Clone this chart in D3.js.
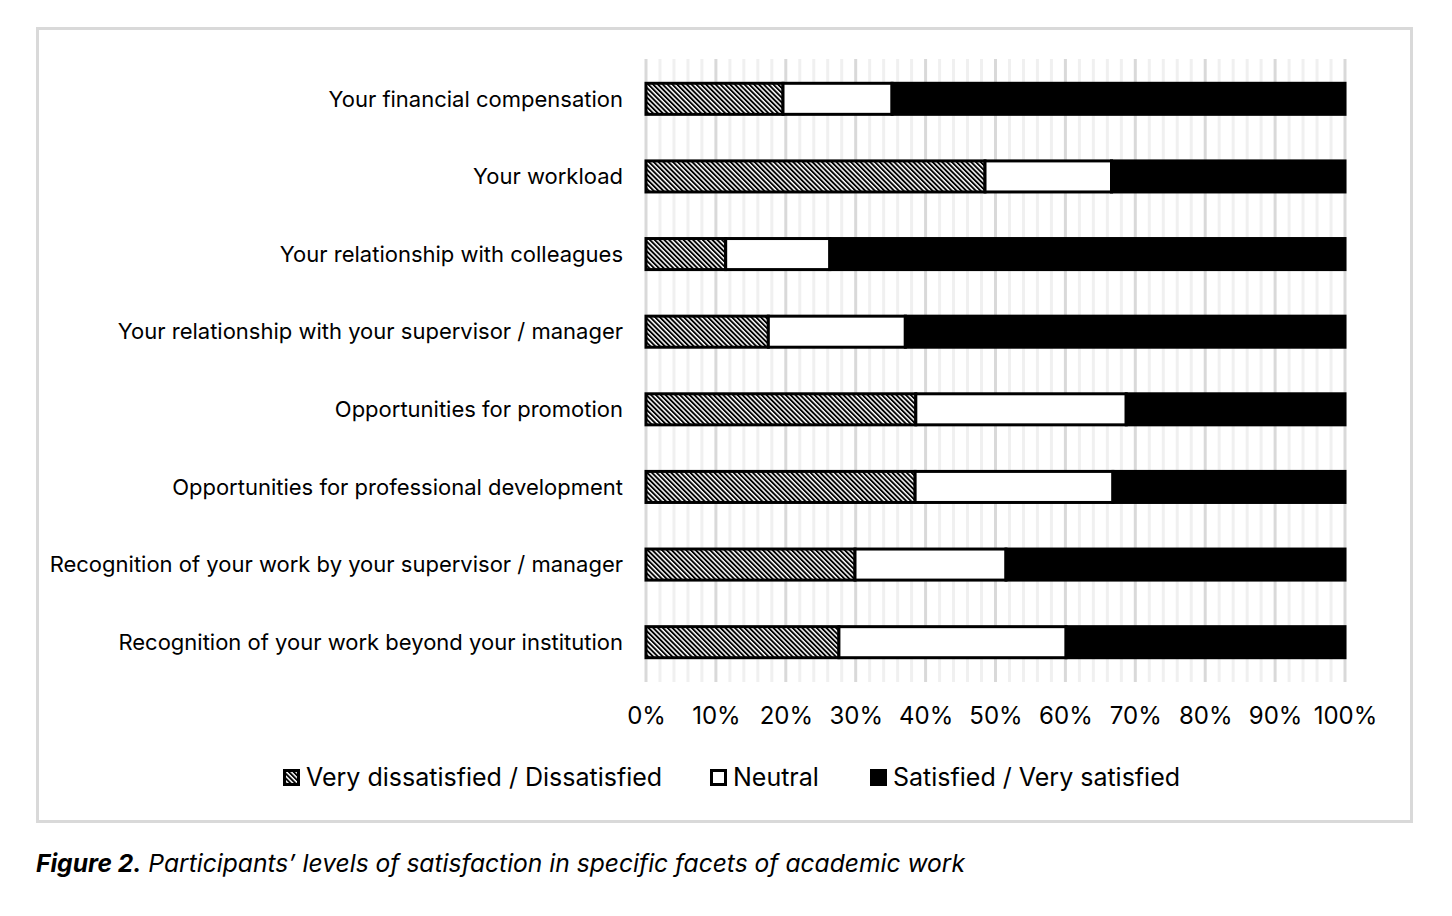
<!DOCTYPE html>
<html>
<head>
<meta charset="utf-8">
<script src="https://cdn.jsdelivr.net/npm/d3@7"></script>
<style>
  body { margin: 0; background: #fff; }
  svg { display: block; font-family: Inter, "Open Sans", sans-serif; }
</style>
</head>
<body>
<svg id="chart"></svg>
<script>
// Categories (top to bottom) and share of each response group, in %
const categories = [
  'Your financial compensation',
  'Your workload',
  'Your relationship with colleagues',
  'Your relationship with your supervisor / manager',
  'Opportunities for promotion',
  'Opportunities for professional development',
  'Recognition of your work by your supervisor / manager',
  'Recognition of your work beyond your institution'
];
const dissatisfied = [19.6, 48.5, 11.4, 17.5, 38.6, 38.5, 29.9, 27.6];
const neutral      = [15.6, 18.1, 14.9, 19.6, 30.1, 28.3, 21.6, 32.5];
const satisfied    = [64.8, 33.4, 73.7, 62.9, 31.3, 33.2, 48.5, 39.9];
const seriesNames = ['Very dissatisfied / Dissatisfied', 'Neutral', 'Satisfied / Very satisfied'];
const xTicks = [0, 10, 20, 30, 40, 50, 60, 70, 80, 90, 100];

const W = 1452, H = 916;
const svg = d3.select('#chart').attr('width', W).attr('height', H);

// hatch pattern for the "dissatisfied" segment
const defs = svg.append('defs');
defs.append('pattern')
    .attr('id', 'hatch')
    .attr('patternUnits', 'userSpaceOnUse')
    .attr('width', 3.4).attr('height', 3.4)
    .attr('patternTransform', 'rotate(-45)')
  .call(p => {
    p.append('rect').attr('width', 3.4).attr('height', 3.4).attr('fill', '#fff');
    p.append('rect').attr('width', 1.9).attr('height', 3.4).attr('fill', '#000');
  });

// outer frame
svg.append('rect')
    .attr('x', 37.5).attr('y', 28.5)
    .attr('width', 1374).attr('height', 793)
    .attr('fill', '#fff')
    .attr('stroke', '#d9d9d9')
    .attr('stroke-width', 3);

const x = d3.scaleLinear().domain([0, 100]).range([646, 1345]);
const y = d3.scaleBand()
    .domain(categories)
    .range([60, 681])
    .paddingInner(0.6)
    .paddingOuter(0.3);

// gridlines: minor every 2%, major every 10%
const minor = d3.range(0, 101, 2).filter(v => v % 10 !== 0);
svg.append('g').selectAll('line')
    .data(minor)
    .join('line')
    .attr('x1', d => x(d)).attr('x2', d => x(d))
    .attr('y1', 59).attr('y2', 682)
    .attr('stroke', '#f0f0f0')
    .attr('stroke-width', 3);

svg.append('g').selectAll('line')
    .data(xTicks)
    .join('line')
    .attr('x1', d => x(d)).attr('x2', d => x(d))
    .attr('y1', 59).attr('y2', 682)
    .attr('stroke', '#d9d9d9')
    .attr('stroke-width', 3);

// stacked bars
const rows = categories.map((c, i) => ({ cat: c, v: [dissatisfied[i], neutral[i], satisfied[i]] }));
const fills = ['url(#hatch)', '#fff', '#000'];

rows.forEach(r => {
  let start = 0;
  r.v.forEach((v, k) => {
    svg.append('rect')
        .attr('x', x(start))
        .attr('y', y(r.cat))
        .attr('width', x(start + v) - x(start))
        .attr('height', y.bandwidth())
        .attr('fill', fills[k])
        .attr('stroke', '#000')
        .attr('stroke-width', 3);
    start += v;
  });
});

// category labels
svg.append('g').selectAll('text')
    .data(categories)
    .join('text')
    .attr('x', 623)
    .attr('y', d => y(d) + y.bandwidth() / 2)
    .attr('dy', '0.35em')
    .attr('text-anchor', 'end')
    .attr('font-size', 22)
    .attr('fill', '#000')
    .text(d => d);

// x axis tick labels
const xAxis = svg.append('g')
    .attr('transform', 'translate(0,707)')
    .call(d3.axisBottom(x).tickValues(xTicks).tickFormat(d => d + '%').tickSize(0).tickPadding(0));
xAxis.select('.domain').remove();
xAxis.selectAll('text')
    .attr('font-size', 24)
    .attr('font-family', 'Inter, sans-serif')
    .attr('fill', '#000');

// legend
const legendItems = [
  { name: seriesNames[0], fill: 'url(#hatch)', x: 283 },
  { name: seriesNames[1], fill: '#fff', x: 710 },
  { name: seriesNames[2], fill: '#000', x: 870 }
];
const lg = svg.append('g').selectAll('g')
    .data(legendItems)
    .join('g')
    .attr('transform', d => `translate(${d.x},777)`);
lg.append('rect')
    .attr('x', 1.5).attr('y', -6.5)
    .attr('width', 14).attr('height', 14)
    .attr('fill', d => d.fill)
    .attr('stroke', '#000')
    .attr('stroke-width', 3);
lg.append('text')
    .attr('x', 23)
    .attr('y', 0)
    .attr('dy', '0.35em')
    .attr('font-size', 25)
    .attr('fill', '#000')
    .text(d => d.name);

// caption
const cap = svg.append('text')
    .attr('x', 36)
    .attr('y', 872)
    .attr('font-size', 24.6)
    .attr('font-style', 'italic')
    .attr('fill', '#000');
cap.append('tspan').attr('font-weight', 'bold').text('Figure 2.');
cap.append('tspan').text(' Participants\u2019 levels of satisfaction in specific facets of academic work');
</script>
</body>
</html>
